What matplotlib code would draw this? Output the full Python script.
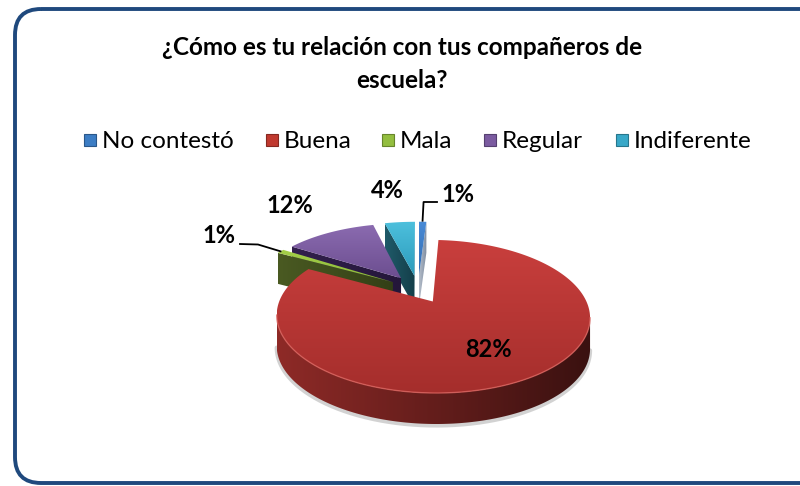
import numpy as np
import matplotlib.pyplot as plt
from matplotlib.patches import Polygon, FancyBboxPatch, Rectangle
from matplotlib.colors import to_rgb

plt.rcParams['font.family'] = ['Lato', 'DejaVu Sans']

# survey answers, clockwise from 12 o'clock
categories = ["No contestó", "Buena", "Mala", "Regular", "Indiferente"]
shares = [1, 82, 1, 12, 4]

title_lines = ["¿Cómo es tu relación con tus compañeros de", "escuela?"]

top_light = ["#4A8BD6", "#C93F3D", "#A6D04A", "#8B6BB0", "#4DC0DD"]
top_dark = ["#2F6AB2", "#A52E2C", "#8AB836", "#6C4E90", "#2C9BBB"]
wall_light = ["#B5BECA", "#8E2A27", "#4A5A22", "#33204D", "#1F5A69"]
wall_dark = ["#7C8A9E", "#3A1110", "#333F16", "#24163A", "#143F4A"]
legend_colors = ["#3C7DC4", "#C0392F", "#93BE3F", "#7B5BA0", "#38A8C8"]

# tilted disc in pixel space: perspective on the top face, straight drop for the sides
TILT = np.radians(27.6)
DIST = 4.68
SCALE = 695.0
CX, CY = 418.0, 289.0
WALL = 31.0
EXPLODE = 0.2


def project(x, y):
    x, y = np.atleast_1d(x), np.atleast_1d(y)
    depth = DIST - y * np.cos(TILT)
    return np.column_stack([CX + SCALE * x / depth,
                            CY + SCALE * y * np.sin(TILT) / depth])


def rim(theta, ox, oy):
    t = np.radians(np.atleast_1d(theta))
    return project(ox + np.sin(t), oy - np.cos(t))


def shaded(ax, verts, c0, c1, z, vertical=True):
    poly = Polygon(verts, closed=True, facecolor='none', edgecolor='none', zorder=z)
    ax.add_patch(poly)
    g = np.linspace(0, 1, 128)
    c0, c1 = np.array(to_rgb(c0)), np.array(to_rgb(c1))
    cols = (1 - g)[:, None] * c0 + g[:, None] * c1
    img = cols[:, None, :] if vertical else cols[None, :, :]
    x0, x1 = verts[:, 0].min(), verts[:, 0].max()
    y0, y1 = verts[:, 1].min(), verts[:, 1].max()
    im = ax.imshow(img, extent=(x0, x1, y1, y0), zorder=z, aspect='auto',
                   interpolation='bilinear')
    im.set_clip_path(poly)


def facing_down(p, q, area):
    d = q - p
    n = np.array([d[1], -d[0]]) if area > 0 else np.array([-d[1], d[0]])
    return n[1] > 0


fig = plt.figure(figsize=(8, 4.86), dpi=100)
ax = fig.add_axes([0, 0, 1, 1])

bounds = np.cumsum([0] + shares) / sum(shares) * 360.0
mids = (bounds[:-1] + bounds[1:]) / 2
offsets = [(EXPLODE * np.sin(np.radians(m)), -EXPLODE * np.cos(np.radians(m))) for m in mids]
drop = np.array([0.0, WALL])

# far slices first
order = sorted(range(len(shares)), key=lambda i: offsets[i][1])
z = 2
for i in order:
    a0, a1 = bounds[i], bounds[i + 1]
    ox, oy = offsets[i]
    apex = project(ox, oy)[0]
    ths = np.linspace(a0, a1, max(6, int((a1 - a0) * 2)))
    arc = rim(ths, ox, oy)
    face = np.vstack([apex, arc])
    xs, ys = face[:, 0], face[:, 1]
    area = 0.5 * np.sum(xs * np.roll(ys, -1) - np.roll(xs, -1) * ys)

    # straight cut edges
    for p, q in ((apex, arc[0]), (arc[-1], apex)):
        if facing_down(p, q, area):
            verts = np.vstack([p, q, q + drop, p + drop])
            shaded(ax, verts, wall_light[i], wall_dark[i], z, vertical=False)
            z += 1

    # curved outer side, only the segments facing the viewer
    vis = np.array([facing_down(arc[k], arc[k + 1], area) for k in range(len(arc) - 1)])
    if vis.any():
        idx = np.where(vis)[0]
        front = arc[idx[0]:idx[-1] + 2]
        if i == 1:
            # soft shadow under the front rim
            ax.plot(front[:, 0], front[:, 1] + WALL + 1.5, color='#808080', lw=3,
                    alpha=0.35, zorder=1, solid_capstyle='round')
        verts = np.vstack([front, (front + drop)[::-1]])
        shaded(ax, verts, wall_light[i], wall_dark[i], z, vertical=False)
        z += 1

    # top face
    shaded(ax, face, top_light[i], top_dark[i], z, vertical=True)
    z += 1
    if vis.any() and i == 1:
        ax.plot(front[:, 0], front[:, 1], color='#D8605B', lw=1.0, alpha=0.8, zorder=z)
        z += 1

# value labels (text baselines in pixels)
label_pos = [(458, 202), (488, 357), (219, 243), (290, 213), (387, 198)]
for i, (lx, ly) in enumerate(label_pos):
    ax.text(lx, ly, f"{shares[i]}%", ha='center', va='baseline',
            fontsize=17, fontweight='bold', color='black', zorder=50)

# leader lines for the two thin slices
blue_tip = rim(mids[0], *offsets[0])[0]
ax.plot([blue_tip[0], blue_tip[0] + 1, 437], [blue_tip[1] - 1, 202, 202],
        color='black', lw=1.3, zorder=50)
green_tip = rim(mids[2], *offsets[2])[0]
ax.plot([240, 258, green_tip[0]], [244, 244.5, green_tip[1]],
        color='black', lw=1.3, zorder=50)

# title
ax.text(402, 55, title_lines[0], ha='center', va='baseline', fontsize=17.5,
        fontweight='bold', color='black')
ax.text(402, 88, title_lines[1], ha='center', va='baseline', fontsize=17.5,
        fontweight='bold', color='black')

# legend row
legend_x = [84, 266, 382, 484, 616]
for name, col, lx in zip(categories, legend_colors, legend_x):
    ax.add_patch(Rectangle((lx, 134), 12, 12, facecolor=col,
                           edgecolor=np.array(to_rgb(col)) * 0.7, lw=0.8, zorder=10))
    ax.text(lx + 18, 148, name, ha='left', va='baseline', fontsize=17.5,
            color='black')

# rounded chart frame, its right side runs past the figure edge
frame = FancyBboxPatch((15, 9), 860, 474, boxstyle='round,pad=0,rounding_size=26',
                       facecolor='none', edgecolor='#1F497D', lw=2.8, zorder=60)
ax.add_patch(frame)

ax.set_xlim(0, 800)
ax.set_ylim(486, 0)
ax.axis('off')
fig.savefig('out.png', dpi=100)
